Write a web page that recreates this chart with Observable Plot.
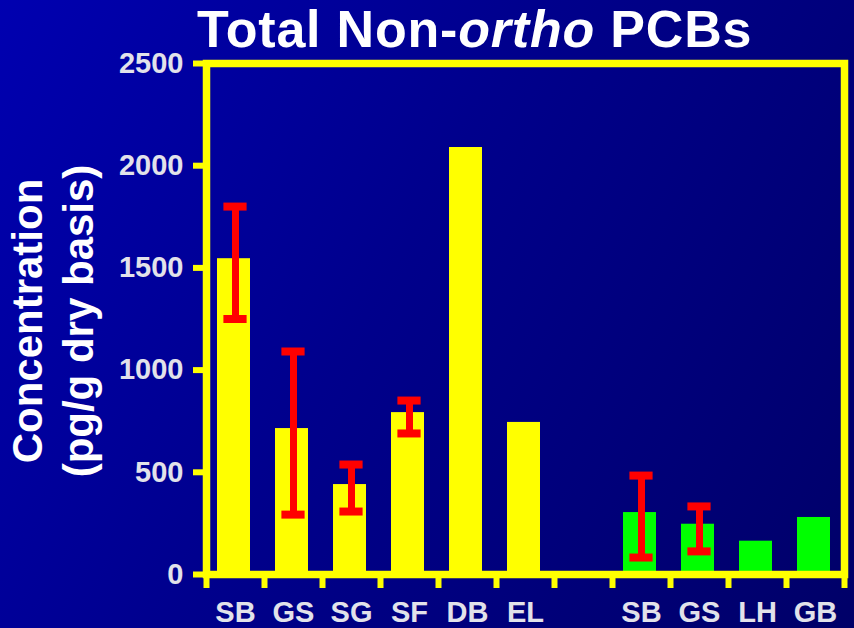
<!DOCTYPE html>
<html><head><meta charset="utf-8">
<script src="https://cdn.jsdelivr.net/npm/d3@7"></script>
<script src="https://cdn.jsdelivr.net/npm/@observablehq/plot@0.6"></script>
<style>
html,body{margin:0;padding:0;}
body{width:854px;height:628px;overflow:hidden;background:#000080;}
#wrap{position:relative;width:854px;height:628px;background:linear-gradient(120deg,#0000b0 0%,#00008c 45%,#000068 100%);font-family:"Liberation Sans",Arial,sans-serif;}
#title{position:absolute;left:197px;top:3px;margin:0;font-size:52px;line-height:52px;font-weight:bold;color:#fff;white-space:nowrap;letter-spacing:0.8px;z-index:2}
#chart{position:absolute;left:0;top:0}
</style></head><body>
<div id="wrap"><div id="title">Total Non-<i>ortho</i> PCBs</div><div id="chart"></div></div>
<script>
// categories (blank = gap between the two groups)
const categories = ["SB","GS","SG","SF","DB","EL","","SB","GS","LH","GB"];
const values     = [1545, 714, 440, 792, 2089, 744, null, 303, 246, 163, 279];
const errLow     = [1250, 293, 308, 690, null, null, null, 83, 113, null, null];
const errHigh    = [1800, 1091, 538, 851, null, null, null, 484, 333, null, null];
const groups     = ["A","A","A","A","A","A",null,"B","B","B","B"];
const groupNames = ["A","B"];
const groupColors = ["#ffff00","#00ff00"];
const yTicks = [0, 500, 1000, 1500, 2000, 2500];
const yTitle = ["Concentration", "(pg/g dry basis)"];

const data = categories.map((c, i) => ({i, cat: c, value: values[i], lo: errLow[i], hi: errHigh[i], group: groups[i]}));
const bars = data.filter(d => d.value != null);
const errs = data.filter(d => d.lo != null);
const boundaries = d3.range(categories.length + 1);
const centers = data.filter(d => d.cat !== "").map(d => d.i + 0.5);

const font = '"Liberation Sans", Arial, sans-serif';
const plot = Plot.plot({
  width: 854, height: 628,
  marginLeft: 206, marginRight: 10, marginTop: 63, marginBottom: 54,
  style: {background: "transparent", fontFamily: font, overflow: "visible"},
  x: {domain: [0, categories.length], axis: null},
  y: {domain: [0, 2500], axis: null},
  color: {domain: groupNames, range: groupColors},
  marks: [
    Plot.rect(bars, {x1: d => d.i, x2: d => d.i + 1, y1: 0, y2: "value", fill: "group", insetLeft: 11, insetRight: 14}),
    Plot.ruleX(errs, {x: d => d.i + 0.5, y1: "lo", y2: "hi", stroke: "#ff0000", strokeWidth: 7}),
    Plot.ruleY(errs, {x1: d => d.i + 0.3, x2: d => d.i + 0.7, y: "lo", stroke: "#ff0000", strokeWidth: 8}),
    Plot.ruleY(errs, {x1: d => d.i + 0.3, x2: d => d.i + 0.7, y: "hi", stroke: "#ff0000", strokeWidth: 8}),
    Plot.frame({stroke: "#ffff00", strokeWidth: 7.5}),
    Plot.axisY(yTicks, {anchor: "left", tickSize: 13, tickPadding: 10, stroke: "#ffff00", strokeWidth: 6, fill: "#e2e2ea", fontSize: 29, fontWeight: "bold", tickFormat: d => String(d), label: null}),
    Plot.axisX(boundaries, {anchor: "bottom", tickSize: 14, stroke: "#ffff00", strokeWidth: 6, fill: "none", label: null}),
    Plot.axisX(centers, {anchor: "bottom", tickSize: 0, tickPadding: 27, fill: "#e2e2ea", fontSize: 29, fontWeight: "bold", tickFormat: d => categories[Math.floor(d)], label: null}),
    Plot.text([yTitle[0]], {frameAnchor: "left", textAnchor: "middle", text: d => d, rotate: -90, dx: -178, dy: 2, fill: "#ffffff", fontSize: 42, fontWeight: "bold"}),
    Plot.text([yTitle[1]], {frameAnchor: "left", textAnchor: "middle", text: d => d, rotate: -90, dx: -127, dy: 2, fill: "#ffffff", fontSize: 42, fontWeight: "bold"})
  ]
});
document.getElementById("chart").appendChild(plot);
</script>
</body></html>
